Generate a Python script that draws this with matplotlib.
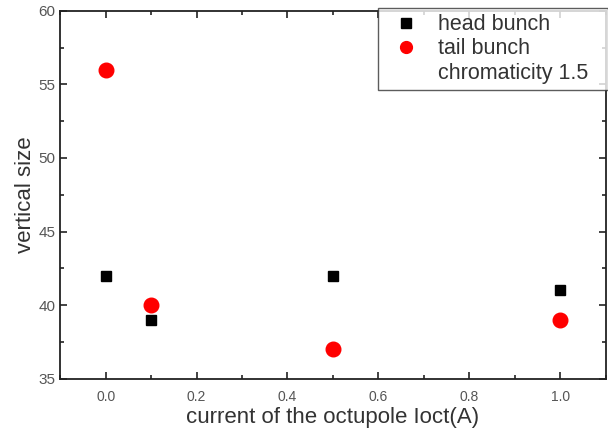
import numpy as np
import matplotlib.pyplot as plt
from matplotlib.lines import Line2D
from matplotlib.ticker import MultipleLocator

plt.rcParams['font.family'] = ['Liberation Sans', 'DejaVu Sans']

# octupole current (A) and measured vertical sizes
current = [0.0, 0.1, 0.5, 1.0]
head_size = [42, 39, 42, 41]
tail_size = [56, 40, 37, 39]

txt = '#333333'
fig = plt.figure(figsize=(6.08, 4.28), dpi=100)
ax = fig.add_axes([0.099, 0.115, 0.897, 0.86])

ax.plot(current, head_size, 's', color='black', ms=7.8, ls='none')
ax.plot(current, tail_size, 'o', color='red', ms=10.5, ls='none')

ax.set_xlim(-0.1, 1.1)
ax.set_ylim(35, 60)
ax.xaxis.set_major_locator(MultipleLocator(0.2))
ax.xaxis.set_minor_locator(MultipleLocator(0.1))
ax.yaxis.set_major_locator(MultipleLocator(5))
ax.yaxis.set_minor_locator(MultipleLocator(2.5))
ax.tick_params(which='both', direction='in', top=True, right=True,
               labelcolor='#555555', width=1.2, color='#222222')
ax.tick_params(which='major', length=5)
ax.tick_params(which='minor', length=3)
ax.tick_params(axis='x', pad=8, labelsize=10)
ax.tick_params(axis='y', labelsize=11)
for s in ax.spines.values():
    s.set_linewidth(1.3)
    s.set_color('#222222')

ax.set_xlabel('current of the octupole Ioct(A)', fontsize=16, color=txt, labelpad=2)
ax.set_ylabel('vertical size', fontsize=16, color=txt, labelpad=2)

handles = [
    Line2D([], [], marker='s', color='black', ls='none', ms=6.5),
    Line2D([], [], marker='o', color='red', ls='none', ms=8.5),
    Line2D([], [], ls='none'),
]
# legend box stretched to a fixed width in the upper right corner
leg = ax.legend(handles, ['head bunch', 'tail bunch', 'chromaticity 1.5'],
                loc='upper right', bbox_to_anchor=(0.5835, 0.5, 0.4205, 0.508),
                mode='expand', fontsize=15.5,
                borderaxespad=0, frameon=True, fancybox=False, edgecolor='#333333',
                labelspacing=0.15, handletextpad=0.45, borderpad=0.3,
                handlelength=2.0)
leg.get_frame().set_linewidth(1.0)
for t in leg.get_texts():
    t.set_color(txt)

fig.savefig('out.png', dpi=100)
